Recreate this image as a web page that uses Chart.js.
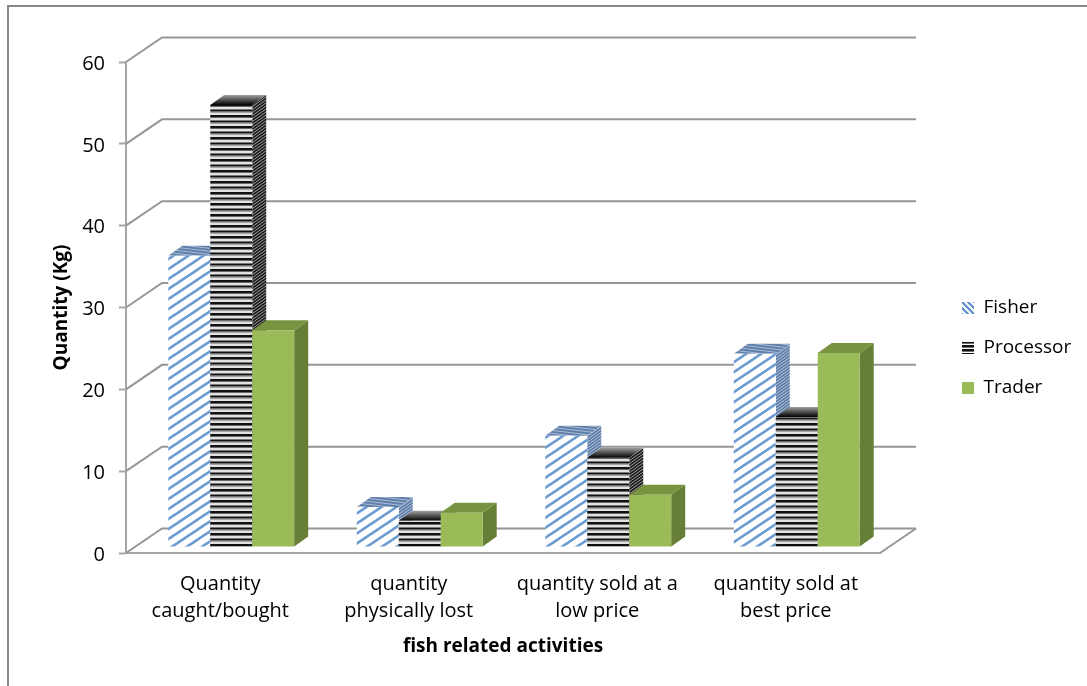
<!DOCTYPE html>
<html>
<head>
<meta charset="utf-8">
<title>Quantity of fish by actor</title>
<script src="https://cdn.jsdelivr.net/npm/chart.js@4"></script>
<style>
  html, body { margin: 0; padding: 0; background: #fff; overflow: hidden; }
  #frame { position: absolute; left: 7px; top: 5px; width: 1080px; height: 681px;
           border-left: 2px solid #868686; border-top: 2px solid #868686; }
  #myChart { position: absolute; left: 0; top: 0; }
</style>
</head>
<body>
<div id="frame"></div>
<canvas id="myChart" width="1087" height="686"></canvas>
<script>
// Categories along the x-axis
var activities = [
  ['Quantity', 'caught/bought'],
  ['quantity', 'physically lost'],
  ['quantity sold at a', 'low price'],
  ['quantity sold at', 'best price']
];

// Quantity in Kg for each actor
var fisher = [35.6, 4.9, 13.6, 23.6];
var processor = [54, 3.2, 10.9, 15.9];
var trader = [26.5, 4.2, 6.4, 23.7];

var seriesNames = ['Fisher', 'Processor', 'Trader'];
var yMax = 60;
var yStep = 10;

// How far the back wall sits from the front plane, and the bars from the front plane
var wallX = 36, wallY = 24.5;
var barX = 11, barY = 6;
var depthX = 14, depthY = 10;

var axisColor = '#a6a6a6';
var wallColor = '#969696';
var labelFont = '"Open Sans", sans-serif';

var ctx = document.getElementById('myChart');
var c2d = ctx.getContext('2d');

// Small helper: paints a tile on its own canvas and turns it into a pattern
function tile(w, h, paint, matrix) {
  var t = document.createElement('canvas');
  t.width = w;
  t.height = h;
  paint(t.getContext('2d'), w, h);
  var p = c2d.createPattern(t, 'repeat');
  if (matrix) p.setTransform(matrix);
  return p;
}

function rows(list) {
  return function (g, w) {
    list.forEach(function (r) {
      g.fillStyle = r[2];
      g.fillRect(0, r[0], w, r[1]);
    });
  };
}

function diagonal(color, lw, down) {
  return function (g, w, h) {
    g.fillStyle = '#fff';
    g.fillRect(0, 0, w, h);
    g.strokeStyle = color;
    g.lineWidth = lw;
    for (var k = -2; k <= 3; k++) {
      g.beginPath();
      // run past the tile edges so the stripes join up between tiles
      if (down) {
        g.moveTo(-w, (k - 2) * h);
        g.lineTo(2 * w, (k + 1) * h);
      } else {
        g.moveTo(-w, (k + 1) * h);
        g.lineTo(2 * w, (k - 2) * h);
      }
      g.stroke();
    }
  };
}

var fisherFront = tile(15, 10, diagonal('#6b9bd2', 2.7));
var processorFront = tile(4, 11, rows([
  [0, 11, '#e2e2e2'], [0, 2, '#111'], [2, 1, '#666'], [5.5, 2, '#111'], [7.5, 1, '#666']
]));
var fisherSide = tile(4, 3, rows([[0, 3, '#b4c4da'], [0, 2, '#5c7ca6']]), new DOMMatrix([1, -0.7, 0, 1, 0, 0]));
var fisherTop = tile(4, 3, rows([[0, 3, '#aabcd6'], [0, 2, '#5f7fa9']]), new DOMMatrix([1, 0.12, 0, 1, 0, 0]));
var processorSide = tile(4, 3, rows([[0, 3, '#9a9a9a'], [0, 2, '#1c1c1c']]), new DOMMatrix([1, -0.7, 0, 1, 0, 0]));

// Legend swatches use a coarser hatch than the bars
var fisherKey = tile(6, 6, diagonal('#5f8fc8', 2.2, true));
var processorKey = tile(4, 4, rows([[0, 4, '#fff'], [0, 2.6, '#111']]), new DOMMatrix([1, 0, 0, 1, 0, 1]));

var faces = [
  { side: fisherSide, top: function () { return fisherTop; } },
  { side: processorSide, top: function (g, bar) {
      var grad = g.createLinearGradient(0, bar.y, 0, bar.y - depthY);
      grad.addColorStop(0, '#000');
      grad.addColorStop(1, '#a0a0a0');
      return grad;
    } },
  { side: '#677e37', top: function () { return '#789440'; } }
];

function path(g, pts) {
  g.beginPath();
  g.moveTo(pts[0][0], pts[0][1]);
  for (var i = 1; i < pts.length; i++) g.lineTo(pts[i][0], pts[i][1]);
  g.closePath();
}

// Back wall lines and floor, then the boxes painted left to right
var box3d = {
  id: 'box3d',
  beforeInit: function (chart) {
    // reserve the whole strip right of the plot for the legend
    var fit = chart.legend.fit;
    chart.legend.fit = function () {
      fit.call(this);
      this.width = 207;
    };
  },
  afterLayout: function (chart) {
    var lg = chart.legend;
    var pad = lg.options.labels.padding;
    lg.left = 962 - pad;
    lg.right = 1087;
    lg.top -= 26;
    lg.bottom -= 26;
  },
  beforeDatasetsDraw: function (chart) {
    var g = chart.ctx, y = chart.scales.y, area = chart.chartArea;
    g.save();
    g.strokeStyle = wallColor;
    g.lineWidth = 2;
    y.ticks.forEach(function (t) {
      var py = y.getPixelForValue(t.value);
      g.beginPath();
      g.moveTo(area.left, py);
      g.lineTo(area.left + wallX, py - wallY);
      g.lineTo(area.right + wallX, py - wallY);
      g.stroke();
    });
    var floor = y.getPixelForValue(0);
    g.beginPath();
    g.moveTo(area.right, floor);
    g.lineTo(area.right + wallX, floor - wallY);
    g.stroke();

    g.translate(barX, -barY);
    chart.data.datasets.forEach(function (ds, i) {
      chart.getDatasetMeta(i).data.forEach(function (bar) {
        var l = bar.x - bar.width / 2, r = bar.x + bar.width / 2;
        var t = bar.y, b = bar.base;
        g.fillStyle = faces[i].side;
        path(g, [[r, t], [r + depthX, t - depthY], [r + depthX, b - depthY], [r, b]]);
        g.fill();
        g.fillStyle = faces[i].top(g, bar);
        path(g, [[l, t], [r, t], [r + depthX, t - depthY], [l + depthX, t - depthY]]);
        g.fill();
        bar.draw(g);
      });
    });
    g.restore();
    return false;
  }
};

var myChart = new Chart(ctx, {
  type: 'bar',
  data: {
    labels: activities,
    datasets: [
      { label: seriesNames[0], data: fisher, backgroundColor: fisherFront },
      { label: seriesNames[1], data: processor, backgroundColor: processorFront },
      { label: seriesNames[2], data: trader, backgroundColor: '#9bbb59' }
    ]
  },
  plugins: [box3d],
  options: {
    responsive: false,
    animation: false,
    events: [],
    layout: { padding: { top: 62, left: 0, right: 0, bottom: 0 } },
    datasets: { bar: { barPercentage: 1, categoryPercentage: 0.668 } },
    plugins: {
      tooltip: { enabled: false },
      legend: {
        position: 'right',
        labels: {
          color: '#000',
          font: { family: labelFont, size: 19 },
          boxWidth: 12,
          boxHeight: 12,
          padding: 21,
          generateLabels: function () {
            return [
              { text: seriesNames[0], fillStyle: fisherKey, lineWidth: 0, strokeStyle: 'transparent' },
              { text: seriesNames[1], fillStyle: processorKey, lineWidth: 0, strokeStyle: 'transparent' },
              { text: seriesNames[2], fillStyle: '#9bbb59', lineWidth: 0, strokeStyle: 'transparent' }
            ];
          }
        }
      }
    },
    scales: {
      x: {
        afterFit: function (scale) { scale.height = 133; },
        grid: { display: false },
        border: { display: true, color: axisColor, width: 2 },
        ticks: {
          color: '#000',
          maxRotation: 0,
          padding: 10,
          font: { family: labelFont, size: 20, lineHeight: 1.35 }
        },
        title: {
          display: true,
          text: 'fish related activities',
          color: '#000',
          font: { family: labelFont, size: 19, weight: 'bold' },
          padding: { top: 0, bottom: 28 }
        }
      },
      y: {
        min: 0,
        max: yMax,
        afterFit: function (scale) { scale.width = 126; },
        grid: { drawOnChartArea: false, tickLength: 7, tickColor: axisColor, tickWidth: 2 },
        border: { display: true, color: axisColor, width: 2 },
        ticks: {
          stepSize: yStep,
          color: '#000',
          padding: 14,
          labelOffset: 2,
          font: { family: labelFont, size: 20 }
        },
        title: {
          display: true,
          text: 'Quantity (Kg)',
          color: '#000',
          font: { family: labelFont, size: 19, weight: 'bold' },
          padding: { top: 50, bottom: 0 }
        }
      }
    }
  }
});
</script>
</body>
</html>
